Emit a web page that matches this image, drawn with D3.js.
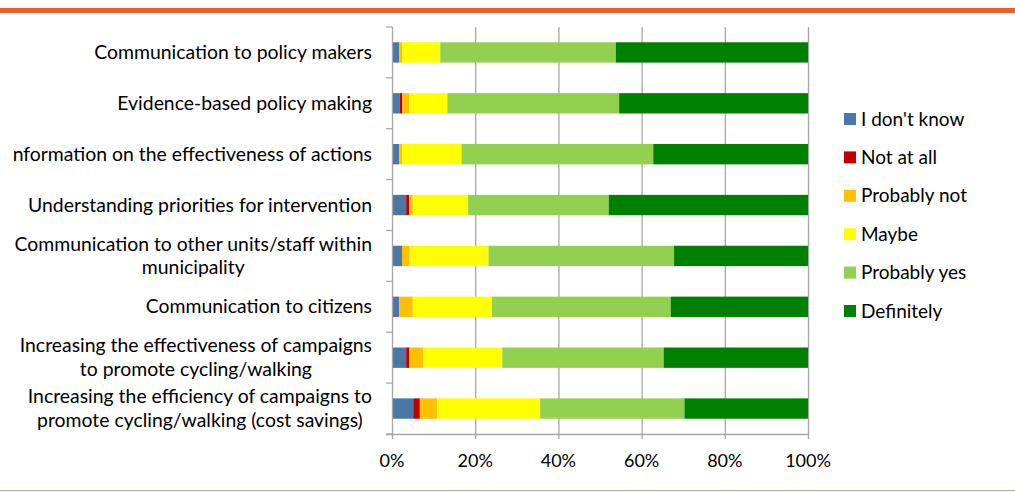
<!DOCTYPE html>
<html>
<head>
<meta charset="utf-8">
<script src="https://cdn.jsdelivr.net/npm/d3@7"></script>
<style>
  body { margin: 0; background: #fff; }
  svg text { font-family: Lato, "Open Sans", sans-serif; fill: #000; }
</style>
</head>
<body>
<div id="chart"></div>
<script>
// categories, top to bottom (lines are wrapped as in the original)
const categories = [
    ["Communication to policy makers"],
    ["Evidence-based policy making"],
    ["Information on the effectiveness of actions"],
    ["Understanding priorities for intervention"],
    ["Communication to other units/staff within", "municipality"],
    ["Communication to citizens"],
    ["Increasing the effectiveness of campaigns", "to promote cycling/walking"],
    ["Increasing the efficiency of campaigns to", "promote cycling/walking (cost savings)"]
];

const answers = ["I don't know", "Not at all", "Probably not", "Maybe", "Probably yes", "Definitely"];

// percent values per answer, same order as categories
const dontKnow     = [1.7, 1.8, 1.7, 3.4, 2.4, 1.7, 3.4, 5.1];
const notAtAll     = [0.0, 0.7, 0.0, 0.7, 0.0, 0.0, 0.8, 1.6];
const probablyNot  = [0.7, 1.7, 0.7, 0.9, 1.8, 3.3, 3.3, 4.1];
const maybe        = [9.2, 9.1, 14.3, 13.3, 19.0, 19.0, 19.0, 24.8];
const probablyYes  = [42.2, 41.3, 46.1, 33.8, 44.6, 43.0, 38.8, 34.7];
const definitely   = [46.2, 45.4, 37.2, 47.9, 32.2, 33.0, 34.7, 29.7];

const xTicks = [0, 20, 40, 60, 80, 100];

const colors = ["#4A76A8", "#C00000", "#FFC000", "#FFFF00", "#92D050", "#008000"];

const series = [dontKnow, notAtAll, probablyNot, maybe, probablyYes, definitely];

let rows = categories.map(function(c, i) {
    let r = { name: c.join(" "), lines: c };
    answers.forEach(function(a, j) { r[a] = series[j][i]; });
    return r;
});

const width = 1015, height = 492;

let svg = d3.select("#chart")
    .append("svg")
    .attr("width", width)
    .attr("height", height);

// labels that run past the chart area get cut, like in the original
svg.append("defs").append("clipPath")
    .attr("id", "chartArea")
    .append("rect")
    .attr("x", 14).attr("y", 0)
    .attr("width", width - 14).attr("height", height);

// orange header rule and thin bottom rule
svg.append("rect")
    .attr("x", 0).attr("y", 8)
    .attr("width", width).attr("height", 5)
    .attr("fill", "#F15A29");
svg.append("line")
    .attr("x1", 0).attr("x2", width)
    .attr("y1", 490.5).attr("y2", 490.5)
    .attr("stroke", "#D9A48E").attr("stroke-width", 1);

let x = d3.scaleLinear().domain([0, 100]).range([392, 808]);
let y = d3.scaleBand()
    .domain(rows.map(d => d.name))
    .range([27, 434])
    .paddingInner(0.6)
    .paddingOuter(0.3);

const gridColor = "#A6A6A6";

// vertical gridlines
svg.append("g")
    .selectAll("line")
    .data(xTicks.slice(1))
    .enter().append("line")
    .attr("x1", d => x(d) + 0.5).attr("x2", d => x(d) + 0.5)
    .attr("y1", 27).attr("y2", 439)
    .attr("stroke", gridColor).attr("stroke-width", 1.3);

// stacked bars
let stack = d3.stack().keys(answers)(rows);

svg.append("g")
    .selectAll("g")
    .data(stack)
    .enter().append("g")
    .attr("fill", (d, i) => colors[i])
    .selectAll("rect")
    .data(d => d)
    .enter().append("rect")
    .attr("x", d => x(d[0]))
    .attr("y", d => y(d.data.name))
    .attr("width", d => x(d[1]) - x(d[0]))
    .attr("height", y.bandwidth());

// left axis line with ticks between categories
let step = y.step();
let bounds = d3.range(categories.length + 1).map(i => 27 + i * step);
svg.append("line")
    .attr("x1", 392.5).attr("x2", 392.5)
    .attr("y1", 27).attr("y2", 439)
    .attr("stroke", gridColor).attr("stroke-width", 1.3);
svg.append("g")
    .selectAll("line")
    .data(bounds)
    .enter().append("line")
    .attr("x1", 386).attr("x2", 392.5)
    .attr("y1", d => d).attr("y2", d => d)
    .attr("stroke", gridColor).attr("stroke-width", 1.3);

// bottom axis
svg.append("line")
    .attr("x1", 386).attr("x2", 808.5)
    .attr("y1", 434.5).attr("y2", 434.5)
    .attr("stroke", gridColor).attr("stroke-width", 1.3);
svg.append("g")
    .selectAll("text")
    .data(xTicks)
    .enter().append("text")
    .attr("x", d => x(d))
    .attr("y", 467)
    .attr("text-anchor", "middle")
    .style("font-size", "18px")
    .text(d => d + "%");

// category labels: block right aligned, lines centered
let labels = svg.append("g")
    .attr("clip-path", "url(#chartArea)")
    .selectAll("text")
    .data(rows)
    .enter().append("text")
    .attr("text-anchor", "middle")
    .style("font-size", "19.4px");

const lineH = 23.5;
labels.each(function(d) {
    let t = d3.select(this);
    let cy = y(d.name) + y.bandwidth() / 2;
    let n = d.lines.length;
    d.lines.forEach(function(l, i) {
        t.append("tspan")
            .attr("y", cy + (i - (n - 1) / 2) * lineH + 6.5)
            .text(l);
    });
    let maxW = 0;
    t.selectAll("tspan").each(function() {
        maxW = Math.max(maxW, this.getComputedTextLength());
    });
    t.selectAll("tspan").attr("x", 372 - maxW / 2);
});

// legend
let legend = svg.append("g")
    .selectAll("g")
    .data(answers)
    .enter().append("g")
    .attr("transform", (d, i) => "translate(844," + (119 + i * 38.4) + ")");

legend.append("rect")
    .attr("x", 0).attr("y", -6)
    .attr("width", 12).attr("height", 12)
    .attr("fill", (d, i) => colors[i]);

legend.append("text")
    .attr("x", 17)
    .attr("y", 6.5)
    .style("font-size", "19px")
    .text(d => d);
</script>
</body>
</html>
